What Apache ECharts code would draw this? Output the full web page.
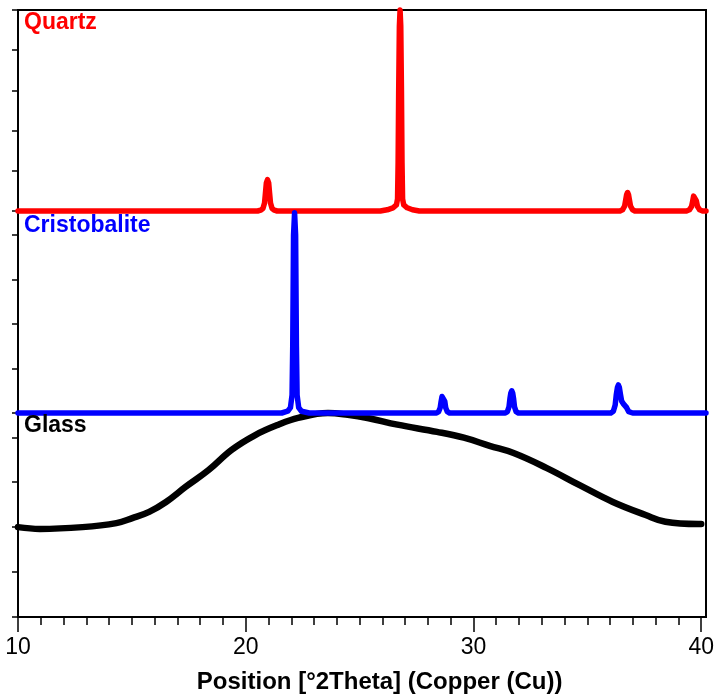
<!DOCTYPE html>
<html>
<head>
<meta charset="utf-8">
<script src="https://cdn.jsdelivr.net/npm/echarts@6/dist/echarts.min.js"></script>
<style>
html,body{margin:0;padding:0;background:#fff;}
#chart{width:717px;height:696px;}
</style>
</head>
<body>
<div id="chart"></div>
<script>
// ---- Data ----
var xMin = 10, xMax = 40;
var xTickLabels = [10, 20, 30, 40];
var seriesNames = ['Quartz', 'Cristobalite', 'Glass'];
var xAxisTitle = 'Position [°2Theta] (Copper (Cu))';

// Quartz pattern: [2Theta, relative intensity]
var quartzData = [
  [10, 0], [20.45, 0], [20.58, 0.02], [20.68, 0.06], [20.75, 0.2], [20.79, 0.45], [20.83, 0.7], [20.88, 0.78], [20.93, 0.7], [20.97, 0.45], [21.01, 0.2], [21.08, 0.06], [21.18, 0.02], [21.3, 0],
  [25.8, 0], [26.1, 0.03], [26.35, 0.08], [26.5, 0.15], [26.55, 0.3], [26.575, 1.2], [26.6, 3.0], [26.63, 4.6], [26.66, 5.0], [26.69, 4.6], [26.72, 3.0], [26.745, 1.2], [26.77, 0.3], [26.82, 0.15], [26.97, 0.08], [27.2, 0.03], [27.5, 0],
  [36.25, 0], [36.36, 0.03], [36.45, 0.12], [36.5, 0.28], [36.54, 0.41], [36.58, 0.46], [36.62, 0.41], [36.66, 0.28], [36.71, 0.12], [36.8, 0.03], [36.9, 0],
  [39.15, 0], [39.28, 0.03], [39.37, 0.11], [39.42, 0.25], [39.46, 0.37], [39.5, 0.41], [39.54, 0.37], [39.58, 0.25], [39.63, 0.11], [39.72, 0.03], [39.85, 0], [40, 0]
];

// Cristobalite pattern
var cristobaliteData = [
  [10, 0], [21.5, 0], [21.76, 0.04], [21.88, 0.12], [21.95, 0.4], [21.98, 1.5], [22.015, 4.0], [22.06, 4.5], [22.105, 4.0], [22.14, 1.5], [22.17, 0.4], [22.24, 0.12], [22.36, 0.04], [22.7, 0],
  [28.25, 0], [28.34, 0.03], [28.41, 0.12], [28.45, 0.26], [28.49, 0.37], [28.53, 0.41], [28.57, 0.37], [28.61, 0.26], [28.65, 0.12], [28.72, 0.03], [28.82, 0],
  [31.25, 0], [31.34, 0.03], [31.41, 0.14], [31.45, 0.32], [31.49, 0.45], [31.53, 0.5], [31.57, 0.45], [31.61, 0.32], [31.65, 0.14], [31.72, 0.03], [31.82, 0],
  [35.85, 0], [35.96, 0.04], [36.04, 0.18], [36.09, 0.42], [36.14, 0.58], [36.18, 0.63], [36.22, 0.58], [36.27, 0.42], [36.32, 0.27], [36.39, 0.21], [36.47, 0.2], [36.54, 0.12], [36.63, 0.03], [36.8, 0], [40, 0]
];

// Glass (amorphous hump)
var glassData = [
  [10.0, 2.00], [10.96, 1.96], [12.83, 2.00], [14.32, 2.09], [15.02, 2.20], [15.76, 2.34],
  [16.50, 2.56], [17.37, 2.90], [18.37, 3.27], [19.38, 3.72], [20.42, 4.05], [21.43, 4.28],
  [22.30, 4.43], [23.61, 4.54], [24.48, 4.50], [25.35, 4.43], [26.66, 4.28], [28.40, 4.12],
  [29.58, 3.99], [30.71, 3.81], [31.76, 3.65], [33.20, 3.32], [34.64, 2.94], [36.12, 2.56],
  [37.56, 2.27], [38.43, 2.12], [39.87, 2.07], [40.0, 2.07]
];

// Panel y extents (tick interval 1 in each panel)
var panelMax = [5, 4.54, 4.54];

// ---- Chart ----
var chart = echarts.init(document.getElementById('chart'), null, {renderer: 'canvas'});
var L = 18, R = 11;
var gridTops = [10, 211, 413];
var gridBottoms = [211, 413, 617];
var H = 696;

var grids = [], xAxes = [], yAxes = [];
for (var i = 0; i < 3; i++) {
  grids.push({left: L, right: R, top: gridTops[i], height: gridBottoms[i] - gridTops[i], show: false});
  xAxes.push({
    type: 'value', gridIndex: i, min: xMin, max: xMax, interval: 10,
    show: i === 2,
    axisLine: {show: true, onZero: false, lineStyle: {color: '#000', width: 2}},
    axisTick: {show: true, length: 15, lineStyle: {color: '#000', width: 1.5}},
    minorTick: {show: true, splitNumber: 10, length: 8, lineStyle: {color: '#000', width: 1.5}},
    splitLine: {show: false},
    axisLabel: {show: true, margin: 19, fontFamily: 'Liberation Sans', fontSize: 23, color: '#000',
      formatter: function (v) { return xTickLabels.indexOf(v) >= 0 ? String(v) : ''; }},
    name: i === 2 ? xAxisTitle : '',
    nameLocation: 'middle', nameGap: 53,
    nameTextStyle: {fontFamily: 'Liberation Sans', fontWeight: 'bold', fontSize: 24, color: '#000', padding: [0, 0, 0, 40]}
  });
  yAxes.push({
    type: 'value', gridIndex: i, min: 0, max: panelMax[i], interval: 1,
    axisLine: {show: true, onZero: false, lineStyle: {color: '#000', width: 2}},
    axisTick: {show: true, inside: false, length: 6, lineStyle: {color: '#000', width: 1.5}},
    axisLabel: {show: false},
    splitLine: {show: false}
  });
}
// frame
grids.push({left: L, right: R, top: 10, bottom: H - 617, show: true, borderColor: '#000', borderWidth: 2, backgroundColor: 'transparent'});
xAxes.push({type: 'value', gridIndex: 3, show: false, min: xMin, max: xMax});
yAxes.push({type: 'value', gridIndex: 3, show: false, min: 0, max: 1});

var labelStyle = {fontFamily: 'Liberation Sans', fontWeight: 'bold', fontSize: 23};

chart.setOption({
  animation: false,
  backgroundColor: '#fff',
  title: [
    {text: seriesNames[0], left: 24, top: 11, padding: 0, textStyle: Object.assign({color: '#ff0000'}, labelStyle)},
    {text: seriesNames[1], left: 24, top: 214, padding: 0, textStyle: Object.assign({color: '#0000ff'}, labelStyle)},
    {text: seriesNames[2], left: 24, top: 414, padding: 0, textStyle: Object.assign({color: '#000'}, labelStyle)}
  ],
  grid: grids,
  xAxis: xAxes,
  yAxis: yAxes,
  series: [
    {name: seriesNames[0], type: 'line', xAxisIndex: 0, yAxisIndex: 0, data: quartzData, showSymbol: false, clip: false,
      lineStyle: {color: '#ff0000', width: 5.5, cap: 'round', join: 'round'}, z: 5},
    {name: seriesNames[1], type: 'line', xAxisIndex: 1, yAxisIndex: 1, data: cristobaliteData, showSymbol: false, clip: false,
      lineStyle: {color: '#0000ff', width: 5.5, cap: 'round', join: 'round'}, z: 5},
    {name: seriesNames[2], type: 'line', xAxisIndex: 2, yAxisIndex: 2, data: glassData, showSymbol: false, clip: false, smooth: 0.4,
      lineStyle: {color: '#000', width: 6.5, cap: 'round', join: 'round'}, z: 4}
  ]
});
</script>
</body>
</html>
